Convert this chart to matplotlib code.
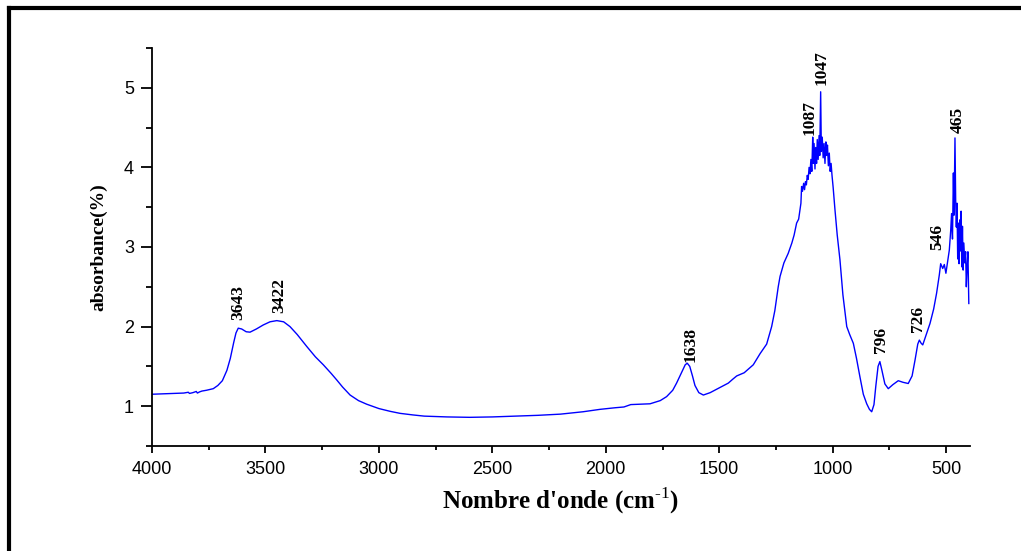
import numpy as np
import matplotlib
matplotlib.use("Agg")
import matplotlib.pyplot as plt
from matplotlib.lines import Line2D
from matplotlib.ticker import MultipleLocator

plt.rcParams["mathtext.fontset"] = "custom"
plt.rcParams["mathtext.rm"] = "Liberation Serif"
plt.rcParams["mathtext.bf"] = "Liberation Serif:bold"

# IR spectrum (wavenumber, absorbance)
wavenumber = [
    4000, 3950, 3900, 3860, 3840, 3835, 3820, 3805, 3800, 3790, 3780, 3760, 3730,
    3710, 3690, 3670, 3655, 3640, 3630, 3620, 3605, 3585, 3568, 3540, 3510, 3480,
    3450, 3420, 3392, 3360, 3318, 3280, 3245, 3210, 3186, 3160, 3127, 3090, 3054,
    3000, 2950, 2907, 2850, 2800, 2700, 2600, 2500, 2400, 2300, 2200, 2100, 2026,
    1960, 1920, 1890, 1850, 1805, 1760, 1732, 1705, 1688, 1665, 1650, 1641, 1630,
    1618, 1607, 1590, 1570, 1540, 1497, 1460, 1440, 1423, 1390, 1350, 1320, 1291,
    1269, 1255, 1240, 1232, 1215, 1196, 1180, 1170, 1159, 1150, 1144, 1140, 1137,
    1133, 1128, 1124, 1120, 1116, 1112, 1108, 1104, 1100, 1096, 1092, 1088, 1085,
    1082, 1078, 1075, 1071, 1068, 1064, 1060, 1057, 1053, 1050, 1046, 1042, 1038,
    1034, 1030, 1027, 1023, 1019, 1015, 1011, 1007, 1003, 998, 990, 980, 968, 955,
    938, 925, 909, 895, 880, 865, 850, 838, 828, 818, 810, 800, 792, 783, 770, 755,
    735, 711, 690, 667, 650, 637, 625, 618, 610, 603, 590, 571, 555, 542, 530, 524,
    515, 508, 501, 493, 486, 480, 476, 472, 468, 465, 461, 458, 455, 452, 449, 446,
    443, 440, 437, 434, 431, 428, 425, 422, 418, 414, 411, 408, 404, 400,
]
absorbance = [
    1.15, 1.155, 1.16, 1.165, 1.175, 1.16, 1.17, 1.185, 1.165, 1.18, 1.19, 1.20, 1.22,
    1.26, 1.32, 1.45, 1.60, 1.80, 1.92, 1.98, 1.97, 1.935, 1.93, 1.97, 2.02, 2.06,
    2.075, 2.06, 2.00, 1.90, 1.75, 1.62, 1.52, 1.41, 1.33, 1.24, 1.14, 1.07, 1.025,
    0.97, 0.935, 0.91, 0.89, 0.875, 0.865, 0.86, 0.865, 0.875, 0.885, 0.90, 0.93, 0.96,
    0.98, 0.99, 1.02, 1.025, 1.03, 1.07, 1.12, 1.20, 1.29, 1.43, 1.52, 1.54, 1.50,
    1.38, 1.26, 1.17, 1.14, 1.17, 1.235, 1.29, 1.34, 1.38, 1.42, 1.52, 1.66, 1.78,
    2.00, 2.20, 2.50, 2.63, 2.80, 2.92, 3.05, 3.15, 3.30, 3.35, 3.47, 3.55, 3.76,
    3.70, 3.80, 3.72, 3.82, 3.78, 3.90, 3.85, 4.00, 3.92, 4.10, 3.95, 4.38, 4.05,
    4.30, 3.98, 4.25, 4.05, 4.35, 4.10, 4.40, 4.15, 4.95, 4.20, 4.38, 4.12, 4.30,
    4.05, 4.32, 4.15, 4.28, 4.02, 4.18, 3.95, 4.05, 3.90, 3.75, 3.47, 3.15, 2.84, 2.40,
    2.00, 1.90, 1.79, 1.60, 1.37, 1.15, 1.03, 0.96, 0.93, 1.02, 1.25, 1.50, 1.56, 1.45, 1.28, 1.22,
    1.27, 1.32, 1.30, 1.285, 1.38, 1.58, 1.78, 1.83, 1.79, 1.77, 1.88, 2.04, 2.22, 2.42, 2.65, 2.79,
    2.73, 2.78, 2.67, 2.82, 2.96, 3.20, 3.42, 3.10, 3.93, 3.40, 4.37, 3.60, 3.25, 3.55, 2.85, 3.30,
    2.79, 3.34, 2.95, 3.45, 2.75, 3.26, 2.71, 3.05, 2.80, 2.94, 2.50, 2.72, 2.94, 2.29,
]

# peak labels: text, x position, y of label bottom
peak_labels = ["3643", "3422", "1638", "1087", "1047", "796", "726", "546", "465"]
peak_x = [3620, 3440, 1625, 1102, 1047, 787, 624, 540, 448]
peak_y = [2.08, 2.17, 1.55, 4.41, 5.04, 1.67, 1.93, 2.96, 4.43]

fig = plt.figure(figsize=(10.21, 5.51), dpi=100)
ax = fig.add_axes([0.1489, 0.1906, 0.950 - 0.1489, 0.9129 - 0.1906])

ax.plot(wavenumber, absorbance, color="#0000ff", lw=1.0)

ax.set_xlim(4000, 395)
ax.set_ylim(0.5, 5.5)
ax.xaxis.set_major_locator(MultipleLocator(500))
ax.xaxis.set_minor_locator(MultipleLocator(250))
ax.yaxis.set_major_locator(MultipleLocator(1))
ax.yaxis.set_minor_locator(MultipleLocator(0.5))

for side in ["top", "right"]:
    ax.spines[side].set_visible(False)
for side in ["left", "bottom"]:
    ax.spines[side].set_linewidth(1.3)

ax.tick_params(axis="x", which="major", length=5, width=1.3, pad=6,
               labelsize=13, direction="out")
ax.tick_params(axis="x", which="minor", length=3, width=1.3, direction="out")
ax.tick_params(axis="y", which="major", length=8, width=1.3, pad=5,
               labelsize=13, direction="out")
ax.tick_params(axis="y", which="minor", length=4.5, width=1.3, direction="out")
for lab in ax.get_xticklabels() + ax.get_yticklabels():
    lab.set_fontfamily("Liberation Sans")

for t, x, y in zip(peak_labels, peak_x, peak_y):
    ax.text(x, y, t, rotation=90, ha="center", va="bottom",
            fontsize=12.5, fontweight="bold", family="Liberation Serif")

ax.set_xlabel(r"Nombre d'onde (cm$^{\mathbf{\text{-1}}}$)", fontsize=18,
              fontweight="bold", family="Liberation Serif", labelpad=5)
ax.set_ylabel("absorbance(%)", fontsize=14, fontweight="bold",
              family="Liberation Serif", labelpad=12)

# thick frame at top and left of the picture
fig.add_artist(Line2D([0.0093, 1.0], [0.9855, 0.9855], color="black", lw=3,
                      transform=fig.transFigure))
fig.add_artist(Line2D([0.0093, 0.0093], [0.0, 0.9855], color="black", lw=3,
                      transform=fig.transFigure))

fig.savefig("out.png", dpi=100)
